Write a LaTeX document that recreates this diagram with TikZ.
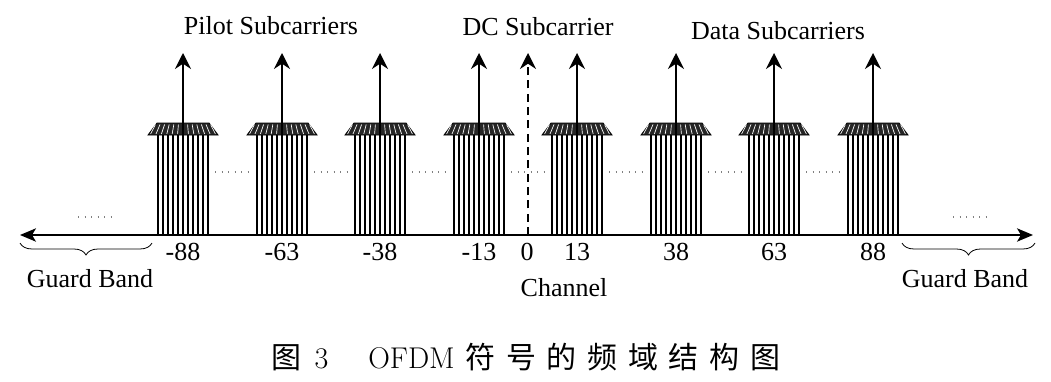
\documentclass[tikz,border=0pt]{standalone}
\usepackage{fontspec}
\setmainfont{Liberation Serif}
\newfontfamily\cjk{Noto Sans CJK SC}
\newfontfamily\lmr{Latin Modern Roman}
\usetikzlibrary{arrows.meta,decorations.pathreplacing}
\tikzset{
  lbl/.style={inner sep=0pt, font=\fontsize{19.5pt}{22pt}\selectfont},
  subbar/.style={line width=1.3pt},
  roof/.style={fill=black!85, draw=black, line width=0.6pt},
  carrier/.style={line width=1.1pt, -{Stealth[length=12pt,width=12pt,inset=4pt]}},
  dccarrier/.style={carrier, dash pattern=on 6pt off 4pt},
  axis/.style={line width=1.1pt, {Stealth[length=12pt,width=10pt,inset=3pt]}-{Stealth[length=12pt,width=10pt,inset=3pt]}},
  dots/.style={line width=0.9pt, gray, dash pattern=on 0.9pt off 4pt},
  gbrace/.style={line width=0.6pt, decorate, decoration={brace, mirror, amplitude=9pt}},
}
\newcommand\cjkgap{\hspace{8pt}}
\begin{document}
\begin{tikzpicture}[x=0.75pt,y=-0.75pt]
\useasboundingbox (0,0) rectangle (1051,382);
% axis
\coordinate (axL) at (20,235);
\coordinate (axR) at (1033,235);
\draw[axis] (axL) -- (axR);
% subcarrier blocks
\foreach \c/\t in {183/-88,282/-63,380/-38,479/-13,577/13,676/38,774/63,873/88}{
  \foreach \k in {-5,...,5}{
    \draw[subbar] (\c+\k*5,235) -- (\c+\k*5,134);
  }
  \path[roof] (\c-26,123) -- (\c+26,123) -- (\c+35,135) -- (\c-35,135) -- cycle;
  \foreach \k in {-6,...,6}{
    \draw[white, line width=0.5pt] (\c+\k*4.6,124.5) -- (\c+\k*5.4,134);
  }
  \coordinate (b\t) at (\c,235);
  \coordinate (p\t) at (\c,53);
  \draw[carrier] (b\t) -- (p\t);
  \node[lbl] (n\t) at (\c,252) {\t};
}
% dc
\coordinate (dcb) at (528,235);
\coordinate (dct) at (528,53);
\draw[dccarrier] (dcb) -- (dct);
\node[lbl] (n0) at (527,252) {0};
% dotted between blocks
\foreach \a/\b in {183/282,282/380,380/479,479/577,577/676,676/774,774/873}{
  \draw[dots] (\a+32,172) -- (\b-32,172);
}
\draw[dots] (78,217) -- (112,217);
\draw[dots] (953,217) -- (988,217);
% braces
\draw[gbrace] (20,243) -- (152,243);
\draw[gbrace] (902,243) -- (1035,243);
% labels
\node[lbl] (gbl) at (90,279) {Guard Band};
\node[lbl] (gbr) at (965,279) {Guard Band};
\node[lbl] (chan) at (564,288) {Channel};
\node[lbl] (pilot) at (271,26) {Pilot Subcarriers};
\node[lbl] (dclbl) at (538,27) {DC Subcarrier};
\node[lbl] (data) at (778,31) {Data Subcarriers};
% caption
\node[anchor=west, inner sep=0pt, font=\fontsize{22.5pt}{26pt}\lmr] (cap) at (271,357)
  {{\cjk 图}\hspace{10pt}3\hspace{30pt}OFDM\hspace{8pt}{\cjk 符}\cjkgap{\cjk 号}\cjkgap{\cjk 的}\cjkgap{\cjk 频}\cjkgap{\cjk 域}\cjkgap{\cjk 结}\cjkgap{\cjk 构}\cjkgap{\cjk 图}};
\end{tikzpicture}
\end{document}
